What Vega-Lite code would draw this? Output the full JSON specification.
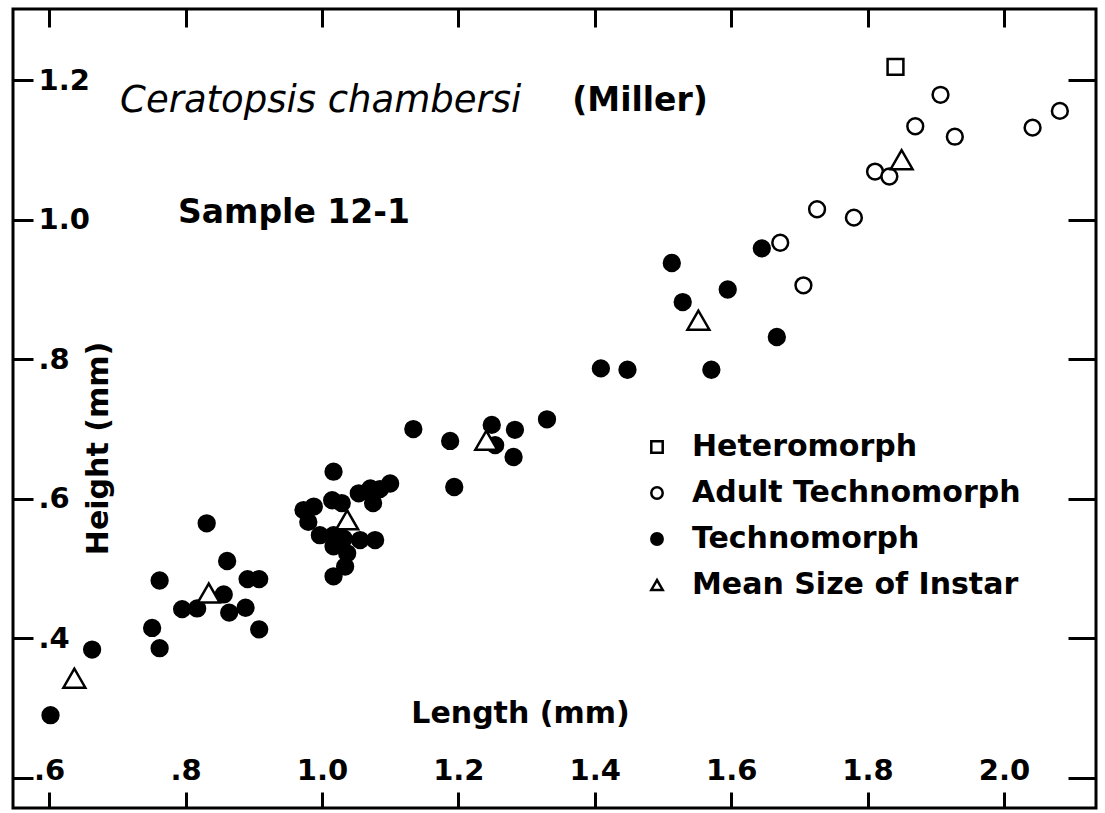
{
  "$schema": "https://vega.github.io/schema/vega-lite/v6.json",
  "width": 1083,
  "height": 799,
  "autosize": {"type": "none"},
  "padding": {"left": 13, "top": 9, "right": 9, "bottom": 5},
  "background": "white",
  "config": {
    "font": "DejaVu Sans",
    "view": {"stroke": "black", "strokeWidth": 3},
    "axis": {"domain": false, "grid": false, "tickColor": "black", "tickWidth": 3, "labelColor": "black", "titleColor": "black", "labelFlush": false, "labelOverlap": false}
  },
  "resolve": {"axis": {"x": "independent", "y": "independent"}},
  "layer": [
    {
      "data": {
        "values": [
          {"L": 0.602, "H": 0.290, "type": "Technomorph"},
          {"L": 0.663, "H": 0.384, "type": "Technomorph"},
          {"L": 0.751, "H": 0.415, "type": "Technomorph"},
          {"L": 0.762, "H": 0.386, "type": "Technomorph"},
          {"L": 0.762, "H": 0.483, "type": "Technomorph"},
          {"L": 0.795, "H": 0.442, "type": "Technomorph"},
          {"L": 0.817, "H": 0.443, "type": "Technomorph"},
          {"L": 0.831, "H": 0.565, "type": "Technomorph"},
          {"L": 0.856, "H": 0.463, "type": "Technomorph"},
          {"L": 0.861, "H": 0.511, "type": "Technomorph"},
          {"L": 0.864, "H": 0.437, "type": "Technomorph"},
          {"L": 0.888, "H": 0.444, "type": "Technomorph"},
          {"L": 0.891, "H": 0.485, "type": "Technomorph"},
          {"L": 0.908, "H": 0.485, "type": "Technomorph"},
          {"L": 0.908, "H": 0.413, "type": "Technomorph"},
          {"L": 0.973, "H": 0.584, "type": "Technomorph"},
          {"L": 0.988, "H": 0.589, "type": "Technomorph"},
          {"L": 0.980, "H": 0.567, "type": "Technomorph"},
          {"L": 1.017, "H": 0.639, "type": "Technomorph"},
          {"L": 1.015, "H": 0.598, "type": "Technomorph"},
          {"L": 1.029, "H": 0.594, "type": "Technomorph"},
          {"L": 0.997, "H": 0.548, "type": "Technomorph"},
          {"L": 1.017, "H": 0.548, "type": "Technomorph"},
          {"L": 1.032, "H": 0.543, "type": "Technomorph"},
          {"L": 1.056, "H": 0.541, "type": "Technomorph"},
          {"L": 1.078, "H": 0.541, "type": "Technomorph"},
          {"L": 1.017, "H": 0.532, "type": "Technomorph"},
          {"L": 1.037, "H": 0.522, "type": "Technomorph"},
          {"L": 1.034, "H": 0.503, "type": "Technomorph"},
          {"L": 1.017, "H": 0.489, "type": "Technomorph"},
          {"L": 1.054, "H": 0.608, "type": "Technomorph"},
          {"L": 1.071, "H": 0.615, "type": "Technomorph"},
          {"L": 1.085, "H": 0.614, "type": "Technomorph"},
          {"L": 1.100, "H": 0.622, "type": "Technomorph"},
          {"L": 1.075, "H": 0.594, "type": "Technomorph"},
          {"L": 1.134, "H": 0.700, "type": "Technomorph"},
          {"L": 1.188, "H": 0.683, "type": "Technomorph"},
          {"L": 1.194, "H": 0.617, "type": "Technomorph"},
          {"L": 1.249, "H": 0.706, "type": "Technomorph"},
          {"L": 1.254, "H": 0.677, "type": "Technomorph"},
          {"L": 1.283, "H": 0.699, "type": "Technomorph"},
          {"L": 1.281, "H": 0.660, "type": "Technomorph"},
          {"L": 1.330, "H": 0.714, "type": "Technomorph"},
          {"L": 1.409, "H": 0.787, "type": "Technomorph"},
          {"L": 1.448, "H": 0.785, "type": "Technomorph"},
          {"L": 1.571, "H": 0.785, "type": "Technomorph"},
          {"L": 1.513, "H": 0.938, "type": "Technomorph"},
          {"L": 1.529, "H": 0.882, "type": "Technomorph"},
          {"L": 1.595, "H": 0.900, "type": "Technomorph"},
          {"L": 1.645, "H": 0.959, "type": "Technomorph"},
          {"L": 1.667, "H": 0.832, "type": "Technomorph"},
          {"L": 1.672, "H": 0.967, "type": "Adult Technomorph"},
          {"L": 1.706, "H": 0.906, "type": "Adult Technomorph"},
          {"L": 1.726, "H": 1.015, "type": "Adult Technomorph"},
          {"L": 1.780, "H": 1.003, "type": "Adult Technomorph"},
          {"L": 1.811, "H": 1.069, "type": "Adult Technomorph"},
          {"L": 1.832, "H": 1.062, "type": "Adult Technomorph"},
          {"L": 1.870, "H": 1.134, "type": "Adult Technomorph"},
          {"L": 1.907, "H": 1.179, "type": "Adult Technomorph"},
          {"L": 1.928, "H": 1.119, "type": "Adult Technomorph"},
          {"L": 2.042, "H": 1.132, "type": "Adult Technomorph"},
          {"L": 2.082, "H": 1.156, "type": "Adult Technomorph"},
          {"L": 1.841, "H": 1.219, "type": "Heteromorph"},
          {"L": 0.637, "H": 0.343, "type": "Mean Size of Instar"},
          {"L": 0.834, "H": 0.465, "type": "Mean Size of Instar"},
          {"L": 1.037, "H": 0.570, "type": "Mean Size of Instar"},
          {"L": 1.241, "H": 0.684, "type": "Mean Size of Instar"},
          {"L": 1.552, "H": 0.856, "type": "Mean Size of Instar"},
          {"L": 1.850, "H": 1.086, "type": "Mean Size of Instar"}
        ]
      },
      "layer": [
        {
          "transform": [{"filter": "datum.type !== 'Mean Size of Instar'"}],
          "mark": {"type": "point", "filled": true, "strokeWidth": 2.5, "opacity": 1, "size": 250},
          "encoding": {
            "x": {"field": "L", "type": "quantitative",
              "scale": {"domain": [0.547, 2.135], "nice": false, "zero": false},
              "axis": {"orient": "bottom", "values": [0.6, 0.8, 1.0, 1.2, 1.4, 1.6, 1.8, 2.0], "tickSize": -16,
                "labelPadding": -7, "labelBaseline": "bottom", "labelFontSize": 29, "labelFontWeight": "bold",
                "labelExpr": "datum.value < 1 ? replace(format(datum.value, '.1f'), '0.', '.') : format(datum.value, '.1f')",
                "title": "Length  (mm)", "titleX": 507, "titleY": -95, "titleAlign": "center", "titleBaseline": "middle",
                "titleFontSize": 30, "titleFontWeight": "bold"}},
            "y": {"field": "H", "type": "quantitative",
              "scale": {"domain": [0.157, 1.302], "nice": false, "zero": false},
              "axis": {"orient": "left", "values": [0.2, 0.4, 0.6, 0.8, 1.0, 1.2], "tickSize": -20,
                "labelPadding": -5, "labelAlign": "left", "labelBaseline": "middle", "labelFontSize": 29, "labelFontWeight": "bold",
                "labelExpr": "datum.value < 0.3 ? '' : (datum.value < 1 ? replace(format(datum.value, '.1f'), '0.', '.') : format(datum.value, '.1f'))",
                "title": "Height  (mm)", "titleX": 85, "titleY": 439, "titleAngle": 270, "titleAlign": "center", "titleBaseline": "middle",
                "titleFontSize": 30, "titleFontWeight": "bold"}},
            "shape": {"field": "type", "type": "nominal",
              "scale": {"domain": ["Heteromorph", "Adult Technomorph", "Technomorph", "Mean Size of Instar"], "range": ["square", "circle", "circle", "triangle-up"]},
              "legend": {"title": null, "orient": "none", "legendX": 629, "legendY": 423, "labelFontSize": 30, "labelFontWeight": "bold", "labelFont": "DejaVu Sans", "labelColor": "black", "labelLimit": 600,
                "rowPadding": 16, "labelOffset": 20, "symbolSize": 130, "symbolStrokeWidth": 2.5}},
            "fill": {"field": "type", "type": "nominal",
              "scale": {"domain": ["Heteromorph", "Adult Technomorph", "Technomorph", "Mean Size of Instar"], "range": ["white", "white", "black", "white"]},
              "legend": {"title": null, "orient": "none", "legendX": 629, "legendY": 423, "labelFontSize": 30, "labelFontWeight": "bold", "labelFont": "DejaVu Sans", "labelColor": "black", "labelLimit": 600,
                "rowPadding": 16, "labelOffset": 20, "symbolSize": 130, "symbolStrokeWidth": 2.5}},
            "stroke": {"field": "type", "type": "nominal",
              "scale": {"domain": ["Heteromorph", "Adult Technomorph", "Technomorph", "Mean Size of Instar"], "range": ["black", "black", "black", "black"]},
              "legend": {"title": null, "orient": "none", "legendX": 629, "legendY": 423, "labelFontSize": 30, "labelFontWeight": "bold", "labelFont": "DejaVu Sans", "labelColor": "black", "labelLimit": 600,
                "rowPadding": 16, "labelOffset": 20, "symbolSize": 130, "symbolStrokeWidth": 2.5}}
          }
        },
        {
          "transform": [{"filter": "datum.type === 'Mean Size of Instar'"}],
          "mark": {"type": "point", "filled": true, "strokeWidth": 2.5, "opacity": 1, "size": 480},
          "encoding": {
            "x": {"field": "L", "type": "quantitative", "scale": {"domain": [0.547, 2.135], "nice": false, "zero": false}, "axis": null},
            "y": {"field": "H", "type": "quantitative", "scale": {"domain": [0.157, 1.302], "nice": false, "zero": false}, "axis": null},
            "shape": {"field": "type", "type": "nominal",
              "scale": {"domain": ["Heteromorph", "Adult Technomorph", "Technomorph", "Mean Size of Instar"], "range": ["square", "circle", "circle", "triangle-up"]}},
            "fill": {"field": "type", "type": "nominal",
              "scale": {"domain": ["Heteromorph", "Adult Technomorph", "Technomorph", "Mean Size of Instar"], "range": ["white", "white", "black", "white"]}},
            "stroke": {"field": "type", "type": "nominal",
              "scale": {"domain": ["Heteromorph", "Adult Technomorph", "Technomorph", "Mean Size of Instar"], "range": ["black", "black", "black", "black"]}}
          }
        },
        {
          "mark": {"type": "point", "opacity": 0},
          "encoding": {
            "x": {"field": "L", "type": "quantitative",
              "scale": {"domain": [0.547, 2.135], "nice": false, "zero": false},
              "axis": {"orient": "top", "values": [0.6, 0.8, 1.0, 1.2, 1.4, 1.6, 1.8, 2.0], "tickSize": -18, "labels": false, "title": null}},
            "y": {"field": "H", "type": "quantitative",
              "scale": {"domain": [0.157, 1.302], "nice": false, "zero": false},
              "axis": {"orient": "right", "values": [0.2, 0.4, 0.6, 0.8, 1.0, 1.2], "tickSize": -28, "labels": false, "title": null}}
          }
        }
      ]
    },
    {
      "data": {"values": [{"label": "Ceratopsis chambersi"}]},
      "mark": {"type": "text", "fontStyle": "italic", "fontSize": 37, "align": "left", "baseline": "middle", "color": "black"},
      "encoding": {
        "text": {"field": "label"},
        "x": {"datum": 0.704, "type": "quantitative", "axis": null},
        "y": {"datum": 1.170, "type": "quantitative", "axis": null}
      }
    },
    {
      "data": {"values": [{"label": "(Miller)"}]},
      "mark": {"type": "text", "fontSize": 33, "fontWeight": "bold", "align": "left", "baseline": "middle", "color": "black"},
      "encoding": {
        "text": {"field": "label"},
        "x": {"datum": 1.367, "type": "quantitative", "axis": null},
        "y": {"datum": 1.170, "type": "quantitative", "axis": null}
      }
    },
    {
      "data": {"values": [{"label": "Sample 12-1"}]},
      "mark": {"type": "text", "fontSize": 33, "fontWeight": "bold", "align": "left", "baseline": "middle", "color": "black"},
      "encoding": {
        "text": {"field": "label"},
        "x": {"datum": 0.789, "type": "quantitative", "axis": null},
        "y": {"datum": 1.009, "type": "quantitative", "axis": null}
      }
    }
  ]
}
